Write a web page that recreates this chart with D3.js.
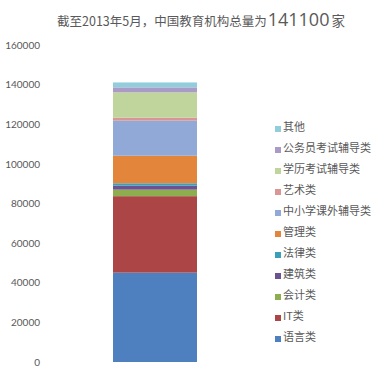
<!DOCTYPE html>
<html>
<head>
<meta charset="utf-8">
<script src="https://cdn.jsdelivr.net/npm/d3@7"></script>
<style>
  html, body { margin: 0; padding: 0; background: #fff; }
  svg { display: block; }
</style>
</head>
<body>
<svg id="chart" width="384" height="375"></svg>
<script>
// Data (stacked bottom -> top)
const categories = ["语言类", "IT类", "会计类", "建筑类", "法律类", "管理类", "中小学课外辅导类", "艺术类", "学历考试辅导类", "公务员考试辅导类", "其他"];
const values = [45100, 38600, 3300, 2000, 1200, 13900, 17700, 1500, 12800, 2500, 2500];
const colors = ["#4E7FBE", "#AC4545", "#8EAD4F", "#6A5390", "#3B9FB8", "#E3863C", "#91A9D6", "#D99694", "#BFD59C", "#A99BC6", "#92CDDC"];
const yTicks = [0, 20000, 40000, 60000, 80000, 100000, 120000, 140000, 160000];
const titleParts = ["截至2013年5月，中国教育机构总量为", "141100", "家"];

const svg = d3.select("#chart");
const textColor = "#595959";

const y = d3.scaleLinear().domain([0, 160000]).range([362, 45]);
const x = d3.scaleBand().domain(["total"]).range([113, 197]).padding(0);

// stack
const row = {};
categories.forEach((c, i) => row[c] = values[i]);
const stack = d3.stack().keys(categories)([row]);

svg.append("g").selectAll("rect")
  .data(stack)
  .join("rect")
  .attr("x", x("total"))
  .attr("width", x.bandwidth())
  .attr("y", d => y(d[0][1]))
  .attr("height", d => y(d[0][0]) - y(d[0][1]))
  .attr("fill", (d, i) => colors[i]);

// Y axis labels (no line, no ticks)
const yAxis = d3.axisLeft(y).tickValues(yTicks).tickSize(0).tickPadding(0).tickFormat(d3.format("d"));
const gy = svg.append("g").attr("transform", "translate(40,0)").call(yAxis);
gy.select(".domain").remove();
gy.selectAll("text")
  .attr("fill", textColor)
  .style("font-family", "Lato, 'Open Sans', sans-serif")
  .style("font-size", "10px");

// Title
const title = svg.append("text")
  .attr("x", 57).attr("y", 26)
  .attr("fill", textColor)
  .style("font-family", "'Noto Sans CJK SC', sans-serif");
title.append("tspan").text(titleParts[0]).style("font-size", "12.5px");
title.append("tspan").text(titleParts[1]).style("font-size", "18px")
  .style("font-family", "'Open Sans', 'Noto Sans', sans-serif").attr("dx", 1);
title.append("tspan").text(titleParts[2]).style("font-size", "13.5px").attr("dx", 2);

// Legend (reverse order)
const legendItems = categories.map((c, i) => ({name: c, color: colors[i]})).reverse();
const ly = d3.scalePoint().domain(legendItems.map(d => d.name)).range([127, 337]);
const lg = svg.append("g").selectAll("g").data(legendItems).join("g")
  .attr("transform", d => `translate(275,${ly(d.name)})`);
lg.append("rect").attr("x", 0).attr("y", -1).attr("width", 6).attr("height", 6).attr("fill", d => d.color);
lg.append("text").attr("x", 8).attr("y", 0).attr("dy", "0.35em")
  .attr("fill", textColor)
  .style("font-family", "'Noto Sans CJK SC', sans-serif")
  .style("font-size", "11px")
  .text(d => d.name);
</script>
</body>
</html>
